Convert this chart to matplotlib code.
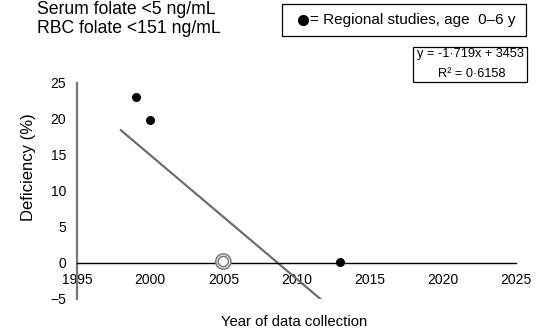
import matplotlib
matplotlib.use("Agg")
import matplotlib.pyplot as plt
from matplotlib.patches import Rectangle
from matplotlib.lines import Line2D
import numpy as np

plt.rcParams['font.family'] = ['Liberation Sans', 'DejaVu Sans']

# data
regional_years = [1999, 2000, 2013]
regional_def = [23.0, 19.8, 0.1]
national_years = [2005, 2005]
national_def = [0.2, 0.2]
slope, intercept = -1.719, 3453
trend_years = [1998, 2012]
xticks = [1995, 2000, 2005, 2010, 2015, 2020, 2025]
yticks = [-5, 0, 5, 10, 15, 20, 25]

W, H = 552, 329
fig = plt.figure(figsize=(W / 100, H / 100), dpi=100)


def fx(x):
    return x / W


def fy(y):
    return 1 - y / H


ax = fig.add_axes([fx(77), fy(299), fx(516) - fx(77), fy(83) - fy(299)])

trend_def = [slope * x + intercept for x in trend_years]
ax.plot(trend_years, trend_def, color="#6e6e6e", lw=1.6, zorder=2)

ax.scatter(regional_years, regional_def, s=30, color="black", zorder=4)
ax.scatter(national_years, national_def, s=[120, 55], facecolors="white",
           edgecolors="#777777", linewidths=1.1, zorder=3)

ax.set_xlim(1995, 2025)
ax.set_ylim(-5, 25)
ax.set_xticks(xticks)
ax.set_yticks(yticks)
ax.tick_params(length=0, labelsize=10)
ax.tick_params(axis="x", pad=7)
ax.tick_params(axis="y", pad=8)

for s in ["top", "right"]:
    ax.spines[s].set_visible(False)
ax.spines["left"].set_color("#777777")
ax.spines["left"].set_linewidth(1.6)
ax.spines["bottom"].set_position(("data", 0))
ax.spines["bottom"].set_color("black")
ax.spines["bottom"].set_linewidth(1.0)

fig.text(fx(28), fy(167), "Deficiency (%)", rotation=90, ha="center",
         va="center", fontsize=12)
fig.text(fx(294), fy(322), "Year of data collection", ha="center",
         va="center", fontsize=10.7)

fig.text(fx(37), fy(14), "Serum folate <5 ng/mL", fontsize=12.7,
         va="baseline")
fig.text(fx(37), fy(33.3), "RBC folate <151 ng/mL", fontsize=12.7,
         va="baseline")

# legend box
fig.add_artist(Rectangle((fx(281.7), fy(35.7)), fx(526) - fx(281.7),
                         fy(4) - fy(35.7), transform=fig.transFigure,
                         fill=False, edgecolor="black", lw=0.9))
fig.add_artist(Line2D([fx(303)], [fy(19.5)], marker="o", markersize=7,
                      color="black", transform=fig.transFigure))
fig.text(fx(310), fy(24), "= Regional studies, age  0\u20136 y",
         fontsize=11, va="baseline")

# equation box
fig.add_artist(Rectangle((fx(413), fy(82.3)), fx(526.5) - fx(413),
                         fy(46.7) - fy(82.3), transform=fig.transFigure,
                         fill=False, edgecolor="black", lw=0.9))
fig.text(fx(470), fy(57.3), "y = -1\u00b7719x + 3453", fontsize=9.2,
         ha="center", va="baseline")
fig.text(fx(472), fy(76.7), "R\u00b2 = 0\u00b76158", fontsize=9.2,
         ha="center", va="baseline")

fig.savefig("out.png", dpi=100)
